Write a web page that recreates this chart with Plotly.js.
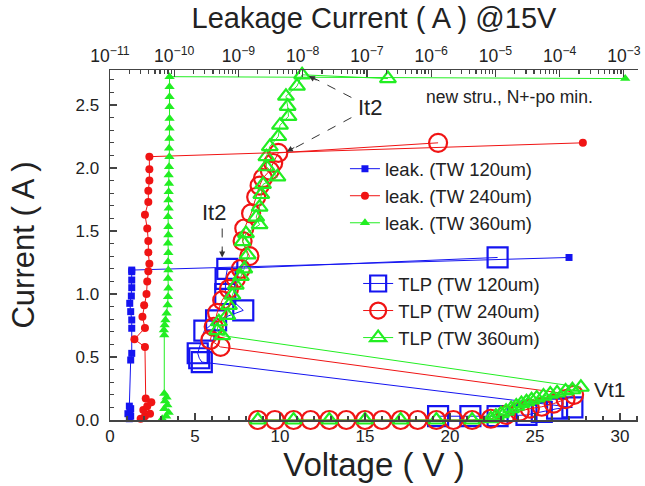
<!DOCTYPE html>
<html>
<head>
<meta charset="utf-8">
<script src="https://cdn.plot.ly/plotly-3.0.1.min.js"></script>
<style>html,body{margin:0;padding:0;background:#fff;}#chart{width:645px;height:486px;}</style>
</head>
<body>
<div id="chart"></div>
<script>
// ---------- TLP data (bottom axis: Voltage V, left axis: Current A) ----------
const tlp120V = [19.3, 21.2, 22.8, 24.5, 25.4, 26.3, 27.2, 5.4, 5.25, 5.16, 5.55, 6.24, 7.84, 6.78, 6.8, 6.9, 22.8];
const tlp120I = [0.03, 0.03, 0.03, 0.04, 0.065, 0.09, 0.10, 0.46, 0.49, 0.53, 0.71, 0.79, 0.87, 1.0, 1.12, 1.2, 1.29];

const tlp240V = [8.7, 9.7, 10.8, 11.8, 12.9, 13.9, 15.0, 16.0, 17.1, 18.1, 19.2, 20.2, 21.3, 22.4, 23.3, 24.1, 24.7, 25.4, 26.1, 26.8, 27.3,
                 6.5, 5.9, 6.1, 6.3, 6.6, 7.0, 7.4, 7.7, 8.2, 7.8, 7.9, 8.3, 8.6, 8.8, 9.0, 9.4, 9.6, 9.9, 19.3];
const tlp240I = [0, 0, 0, 0, 0, 0, 0, 0, 0, 0, 0, 0, 0, 0.01, 0.04, 0.066, 0.09, 0.105, 0.13, 0.165, 0.2,
                 0.58, 0.635, 0.74, 0.85, 0.95, 1.04, 1.12, 1.2, 1.3, 1.42, 1.52, 1.64, 1.77, 1.86, 1.92, 1.98, 2.04, 2.12, 2.20];

const tlp360V = [8.7, 10.8, 12.9, 15.0, 17.1, 19.2, 21.3, 22.4, 22.7, 23.0, 23.3, 23.6, 23.9, 24.2, 24.5, 24.8, 25.1, 25.5, 25.9, 26.3, 26.8, 27.2, 27.7,
                 6.6, 6.3, 6.4, 6.9, 7.0, 7.2, 7.4, 7.7, 7.9, 8.1, 7.8, 8.0, 8.8, 8.6, 8.8, 8.9, 9.0, 9.85, 9.2, 9.2, 9.4, 9.9, 10.0, 10.5, 10.45, 10.35, 11.0, 11.3, 16.35];
const tlp360I = [0, 0, 0, 0, 0, 0, 0, 0.01, 0.03, 0.05, 0.07, 0.09, 0.11, 0.13, 0.145, 0.16, 0.175, 0.19, 0.205, 0.215, 0.23, 0.24, 0.26,
                 0.67, 0.71, 0.78, 0.83, 0.91, 0.99, 1.07, 1.14, 1.2, 1.31, 1.415, 1.48, 1.55, 1.61, 1.69, 1.79, 1.87, 1.93, 2.01, 2.09, 2.17, 2.25, 2.34, 2.41, 2.49, 2.57, 2.65, 2.74, 2.71];

// ---------- Leakage data (top axis: leakage current A @15V, left axis: TLP current A) ----------
const leak120A = [2.0e-11, 2.1e-11, 1.9e-11, 2.05e-11, 2.1e-11, 2.0e-11, 2.1e-11, 2.18e-11, 2.18e-11, 2.18e-11, 2.1e-11, 2.03e-11, 2.15e-11, 2.18e-11, 2.18e-11, 2.18e-11, 2.18e-11, 1.4e-4];
const leak120I = [0.01, 0.03, 0.05, 0.07, 0.09, 0.11, 0.476, 0.529, 0.728, 0.794, 0.86, 0.926, 0.984, 1.05, 1.111, 1.177, 1.19, 1.29];

const leak240A = [3.0e-11, 3.5e-11, 4.2e-11, 3.3e-11, 3.8e-11, 4.4e-11, 3.6e-11, 3.5e-11, 2.4e-11, 3.5e-11, 3.2e-11, 3.4e-11, 3.7e-11, 3.8e-11, 3.95e-11, 4.1e-11, 3.95e-11, 3.95e-11, 3.8e-11, 3.5e-11, 3.95e-11, 3.95e-11, 4.1e-11, 4.1e-11, 4.1e-11, 2.3e-4];
const leak240I = [0.01, 0.03, 0.05, 0.08, 0.11, 0.14, 0.17, 0.58, 0.64, 0.73, 0.82, 0.91, 1.00, 1.10, 1.18, 1.24, 1.33, 1.42, 1.52, 1.63, 1.73, 1.82, 1.90, 1.99, 2.09, 2.20];

const leak360A = [6.5e-11, 7.5e-11, 8.2e-11, 7.0e-11, 7.8e-11, 7.2e-11, 7.6e-11, 7.0e-11,
                  7.0e-11, 6.9e-11, 7.1e-11, 7.3e-11, 7.6e-11, 7.9e-11, 8.0e-11, 8.1e-11, 8.0e-11, 8.1e-11, 8.0e-11, 8.1e-11, 8.0e-11,
                  8.1e-11, 8.1e-11, 8.0e-11, 8.2e-11, 8.1e-11, 8.2e-11, 8.3e-11, 8.2e-11, 8.3e-11, 8.4e-11, 8.3e-11, 8.4e-11, 8.45e-11, 8.45e-11, 8.45e-11, 8.45e-11, 8.45e-11, 8.45e-11, 1.05e-3];
const leak360I = [0.01, 0.03, 0.06, 0.09, 0.12, 0.15, 0.18, 0.21,
                  0.675, 0.714, 0.754, 0.794, 0.847, 0.913, 0.979, 1.045, 1.124, 1.19, 1.257, 1.328, 1.402,
                  1.468, 1.534, 1.614, 1.68, 1.746, 1.812, 1.878, 1.944, 2.011, 2.09, 2.156, 2.235, 2.315, 2.394, 2.487, 2.566, 2.645, 2.725, 2.71];

const leakNames = ['leak. (TW 120um)', 'leak. (TW 240um)', 'leak. (TW 360um)'];
const tlpNames = ['TLP (TW 120um)', 'TLP (TW 240um)', 'TLP (TW 360um)'];
const colors = ['#1414f0', '#f01414', '#22ee22'];

const FONT = 'Liberation Sans, Arial, sans-serif';

const traces = [
  {x: leak120A, y: leak120I, xaxis: 'x2', yaxis: 'y', name: leakNames[0], mode: 'lines+markers', legend: 'legend',
   line: {color: colors[0], width: 1}, marker: {symbol: 'square', size: 7, color: colors[0]}, cliponaxis: false},
  {x: leak240A, y: leak240I, xaxis: 'x2', yaxis: 'y', name: leakNames[1], mode: 'lines+markers', legend: 'legend',
   line: {color: colors[1], width: 1}, marker: {symbol: 'circle', size: 8, color: colors[1]}, cliponaxis: false},
  {x: leak360A, y: leak360I, xaxis: 'x2', yaxis: 'y', name: leakNames[2], mode: 'lines+markers', legend: 'legend',
   line: {color: colors[2], width: 1}, marker: {symbol: 'triangle-up', size: 9, color: colors[2]}, cliponaxis: false},
  {x: tlp120V, y: tlp120I, xaxis: 'x', yaxis: 'y', name: tlpNames[0], mode: 'lines+markers', legend: 'legend2',
   line: {color: colors[0], width: 1}, marker: {symbol: 'square-open', size: 20, color: colors[0], line: {width: 2.2, color: colors[0]}}, cliponaxis: false},
  {x: tlp240V, y: tlp240I, xaxis: 'x', yaxis: 'y', name: tlpNames[1], mode: 'lines+markers', legend: 'legend2',
   line: {color: colors[1], width: 1}, marker: {symbol: 'circle-open', size: 18, color: colors[1], line: {width: 2.2, color: colors[1]}}, cliponaxis: false},
  {x: tlp360V, y: tlp360I, xaxis: 'x', yaxis: 'y', name: tlpNames[2], mode: 'lines+markers', legend: 'legend2',
   line: {color: colors[2], width: 1}, marker: {symbol: 'triangle-up-open', size: 14, color: colors[2], line: {width: 2.2, color: colors[2]}}, cliponaxis: false}
];

const axisCommon = {
  showline: true, linecolor: '#444', linewidth: 1.5, showgrid: false, zeroline: false,
  ticks: 'inside', ticklen: 7, tickwidth: 1.2, tickcolor: '#444',
  tickfont: {family: FONT, size: 17, color: '#222'}
};

const layout = {
  width: 645, height: 486,
  margin: {l: 110, r: 7, t: 70, b: 66},
  paper_bgcolor: '#fff', plot_bgcolor: '#fff',
  font: {family: FONT, color: '#222'},
  xaxis: Object.assign({}, axisCommon, {
    range: [0, 31.06], tick0: 0, dtick: 5, anchor: 'y',
    minor: {dtick: 1, ticks: 'inside', ticklen: 4, tickcolor: '#444'},
    title: {text: 'Voltage ( V )', font: {family: FONT, size: 33, color: '#222'}, standoff: 1}
  }),
  xaxis2: Object.assign({}, axisCommon, {
    type: 'log', overlaying: 'x', side: 'top', anchor: 'y',
    range: [-11, -2.78], dtick: 1, exponentformat: 'power',
    tickfont: {family: FONT, size: 14, color: '#222'},
    minor: {dtick: 'D1', ticks: 'inside', ticklen: 4, tickcolor: '#444'},
    title: {text: 'Leakage Current ( A ) @15V', font: {family: FONT, size: 29, color: '#222'}, standoff: 6}
  }),
  yaxis: Object.assign({}, axisCommon, {
    range: [0, 2.778], dtick: 0.5, tick0: 0, tickformat: '.1f', ticklabelstandoff: 6,
    minor: {dtick: 0.1, ticks: 'inside', ticklen: 4, tickcolor: '#444'},
    title: {text: 'Current ( A )', font: {family: FONT, size: 31, color: '#222'}, standoff: 31}
  }),
  showlegend: true,
  legend: {x: 0.445, y: 0.771, xanchor: 'left', yanchor: 'top', bgcolor: 'rgba(0,0,0,0)',
           font: {family: FONT, size: 18.5, color: '#222'}, tracegroupgap: 0, itemwidth: 30},
  legend2: {x: 0.47, y: 0.443, xanchor: 'left', yanchor: 'top', bgcolor: 'rgba(0,0,0,0)',
           font: {family: FONT, size: 18.5, color: '#222'}, tracegroupgap: 0, itemwidth: 30},
  shapes: [
    {type: 'line', xref: 'x', yref: 'y', x0: 14.2, y0: 2.56, x1: 11.9, y1: 2.72, line: {color: '#333', width: 1, dash: 'dash'}},
    {type: 'line', xref: 'x', yref: 'y', x0: 14.2, y0: 2.40, x1: 10.6, y1: 2.14, line: {color: '#333', width: 1, dash: 'dash'}},
    {type: 'line', xref: 'x', yref: 'y', x0: 6.6, y0: 1.52, x1: 6.6, y1: 1.31, line: {color: '#333', width: 1, dash: 'dash'}}
  ],
  annotations: [
    {xref: 'x', yref: 'y', x: 11.7, y: 2.73, ax: 9, ay: 5, text: '', showarrow: true, arrowhead: 2, arrowsize: 1.2, arrowwidth: 1, arrowcolor: '#333'},
    {xref: 'x', yref: 'y', x: 10.4, y: 2.13, ax: 9, ay: -5, text: '', showarrow: true, arrowhead: 2, arrowsize: 1.2, arrowwidth: 1, arrowcolor: '#333'},
    {xref: 'x', yref: 'y', x: 6.6, y: 1.29, ax: 0, ay: -9, text: '', showarrow: true, arrowhead: 2, arrowsize: 1.2, arrowwidth: 1, arrowcolor: '#333'},
    {xref: 'x', yref: 'y', x: 15.3, y: 2.48, text: 'It2', showarrow: false, font: {family: FONT, size: 22, color: '#222'}},
    {xref: 'x', yref: 'y', x: 6.1, y: 1.65, text: 'It2', showarrow: false, font: {family: FONT, size: 22, color: '#222'}},
    {xref: 'x', yref: 'y', x: 29.4, y: 0.24, text: 'Vt1', showarrow: false, font: {family: FONT, size: 21, color: '#222'}},
    {xref: 'x', yref: 'y', x: 23.5, y: 2.56, text: 'new stru., N+-po min.', showarrow: false, font: {family: FONT, size: 17.5, color: '#222'}}
  ]
};

Plotly.newPlot('chart', traces, layout, {displayModeBar: false, staticPlot: true});
</script>
</body>
</html>
